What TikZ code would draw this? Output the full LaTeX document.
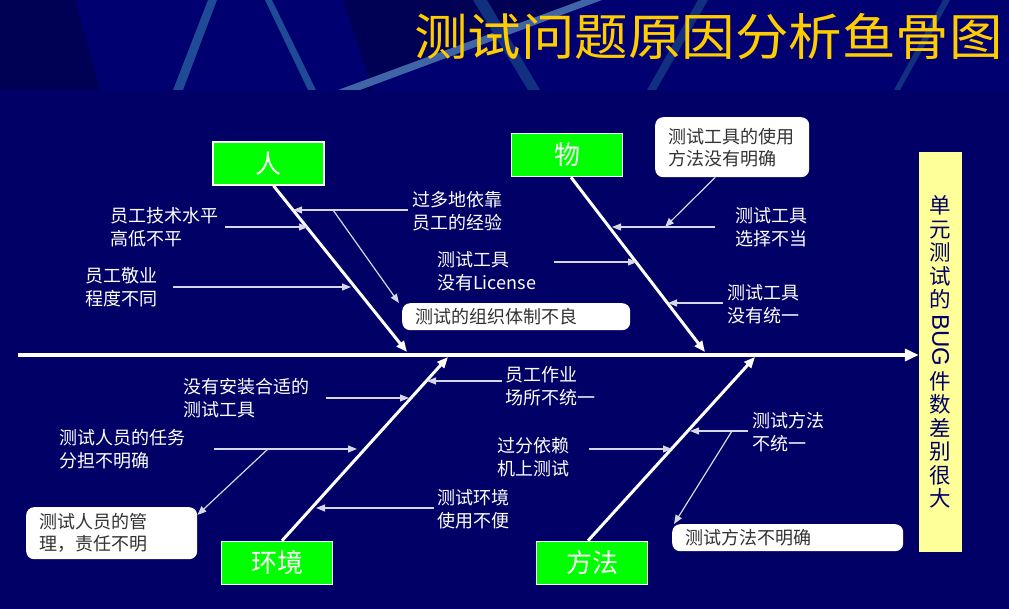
\documentclass[tikz,border=0pt]{standalone}
\usepackage{fontspec}
\setmainfont{Noto Sans CJK SC}
\newfontfamily\bugfont{Liberation Sans}
\usetikzlibrary{arrows.meta}
\definecolor{navy}{RGB}{0,0,102}
\definecolor{bandblue}{RGB}{0,0,112}
\definecolor{banddark}{RGB}{0,0,84}
\definecolor{streak}{RGB}{30,74,150}
\definecolor{streakdim}{RGB}{18,48,128}
\definecolor{titlegold}{RGB}{255,204,0}
\definecolor{catgreen}{RGB}{0,255,0}
\definecolor{effectyellow}{RGB}{255,255,153}
\definecolor{twiggray}{RGB}{215,215,232}

\begin{document}
\begin{tikzpicture}[x=1pt,y=-1pt,
  title/.style={anchor=east,text=titlegold,inner sep=0pt,xscale=1.07,font=\fontsize{50}{50}\selectfont},
  cat/.style={draw=white,line width=1.5pt,fill=catgreen,text=white,minimum width=111pt,minimum height=43pt,inner sep=0pt,font=\fontsize{26}{26}\selectfont},
  cause/.style={anchor=west,align=left,text=white,inner sep=0pt,font=\fontsize{18}{23}\selectfont},
  note/.style={anchor=north west,fill=white,rounded corners=8pt,text=black!80,align=left,inner xsep=13pt,inner ysep=0pt,font=\fontsize{18}{22}\selectfont},
  effect/.style={fill=effectyellow,text=navy,minimum width=43pt,minimum height=400pt,inner sep=0pt,align=center,font=\fontsize{21.5}{23.5}\selectfont},
  spine/.style={draw=white,line width=4pt,-{Triangle[length=14pt,width=12pt]}},
  bone/.style={draw=white,line width=3pt,-{Triangle[length=11pt,width=9pt]}},
  twig/.style={draw=twiggray,line width=1.2pt,-{Triangle[length=9pt,width=7pt]}}]
% background
\fill[navy] (0,0) rectangle (1009,609);
\useasboundingbox (0,0) rectangle (1009,609);
\fill[bandblue] (0,0) rectangle (1009,90);
\fill[banddark] (0,0) -- (75,0) -- (100,90) -- (0,90) -- cycle;
\fill[banddark] (343,0) -- (582,0) -- (338,90) -- (373,90) -- cycle;
\fill[streak] (208,0) -- (217,0) -- (183,90) -- (173,90) -- cycle;
\fill[streak] (265,0) -- (272,0) -- (316,90) -- (308,90) -- cycle;
\fill[streak!85!white] (582,0) -- (602,0) -- (360,90) -- (338,90) -- cycle;
\fill[streakdim] (473,0) -- (487,0) -- (540,90) -- (528,90) -- cycle;
\fill[streakdim] (698,0) -- (708,0) -- (656,90) -- (647,90) -- cycle;
\fill[streakdim] (943,0) -- (950,0) -- (900,90) -- (894,90) -- cycle;
\node[title] (title) at (1003,36) {测试问题原因分析鱼骨图};

% effect and spine
\node[effect] (effect) at (940.5,352) {单\\元\\测\\试\\的\\\rotatebox[origin=c]{-90}{\bugfont\fontsize{24}{24}\selectfont\,BUG\,}\\件\\数\\差\\别\\很\\大};
\coordinate (tail) at (18,355);
\draw[spine] (tail) -- (tail -| effect.west);

% categories
\node[cat] (ren) at (268.5,163.5) {人};
\node[cat] (wu) at (567,155) {物};
\node[cat] (hj) at (277,563) {环境};
\node[cat] (ff) at (592,563) {方法};
\coordinate (renend) at (407,352);
\coordinate (wuend) at (705,352);
\coordinate (hjend) at (448,357);
\coordinate (ffend) at (755,357);
\draw[bone] ([xshift=5pt]ren.south) -- (renend);
\draw[bone] ([xshift=4pt]wu.south) -- (wuend);
\draw[bone] ([xshift=5pt]hj.north) -- (hjend);
\draw[bone] ([xshift=-4pt]ff.north) -- (ffend);

% causes
\node[cause] (skill) at (110,227) {员工技术水平\\高低不平};
\node[cause] (devotion) at (85,287) {员工敬业\\程度不同};
\node[cause] (relyexp) at (412,211) {过多地依靠\\员工的经验};
\node[cause] (license) at (437,271) {测试工具\\没有License};
\node[cause] (choose) at (735,227) {测试工具\\选择不当};
\node[cause] (unify) at (727,304) {测试工具\\没有统一};
\node[cause] (install) at (183,398) {没有安装合适的\\测试工具};
\node[cause] (task) at (59,449) {测试人员的任务\\分担不明确};
\node[cause] (site) at (505,386) {员工作业\\场所不统一};
\node[cause] (envuse) at (437,509) {测试环境\\使用不便};
\node[cause] (relymach) at (497,457) {过分依赖\\机上测试};
\node[cause] (methuni) at (752,432) {测试方法\\不统一};

% notes
\node[note,text width=128pt,minimum height=60pt] (usenote) at (655,117) {测试工具的使用\\方法没有明确};
\node[note,text width=202pt,minimum height=27pt] (orgnote) at (402,303) {测试的组织体制不良};
\node[note,text width=145pt,minimum height=52pt] (mgmtnote) at (26,507) {测试人员的管\\理，责任不明};
\node[note,text width=205pt,minimum height=27pt] (methnote) at (672,524) {测试方法不明确};

% points on the bones
\coordinate (ren1) at (293,210);
\coordinate (ren2) at (308,227);
\coordinate (ren3) at (351,287);
\coordinate (renfork) at (333,210);
\coordinate (wu1) at (612,227);
\coordinate (wu2) at (637,262);
\coordinate (wu3) at (668,303);
\coordinate (wufork) at (665,227);
\coordinate (hj1) at (427,381);
\coordinate (hj2) at (409,398);
\coordinate (hj3) at (357,449);
\coordinate (hj4) at (316,508);
\coordinate (hjfork) at (268,449);
\coordinate (ff1) at (690,431);
\coordinate (ff2) at (672,449);
\coordinate (fffork) at (732,431);

% twigs
\draw[twig] ([xshift=-4pt]ren1 -| relyexp.west) -- (ren1);
\draw[twig] ([xshift=7pt]ren2 -| skill.east) -- (ren2);
\draw[twig] ([xshift=16pt]ren3 -| devotion.east) -- (ren3);
\draw[twig] (renfork) -- ([xshift=-3pt]orgnote.north west);
\draw[twig] ([xshift=-20pt]wu1 -| choose.west) -- (wu1);
\draw[twig] ([xshift=18pt]wu2 -| license.east) -- (wu2);
\draw[twig] ([xshift=-4pt]wu3 -| unify.west) -- (wu3);
\draw[twig] ([xshift=-17pt]usenote.south) -- (wufork);
\draw[twig] ([xshift=-3pt]hj1 -| site.west) -- (hj1);
\draw[twig] ([xshift=17pt]hj2 -| install.east) -- (hj2);
\draw[twig] ([xshift=29pt]hj3 -| task.east) -- (hj3);
\draw[twig] ([xshift=-3pt]hj4 -| envuse.west) -- (hj4);
\draw[twig] (hjfork) -- ([yshift=-8pt]mgmtnote.north east);
\draw[twig] ([xshift=-4pt]ff1 -| methuni.west) -- (ff1);
\draw[twig] ([xshift=20pt]ff2 -| relymach.east) -- (ff2);
\draw[twig] (fffork) -- ([xshift=2pt]methnote.north west);
\end{tikzpicture}
\end{document}
